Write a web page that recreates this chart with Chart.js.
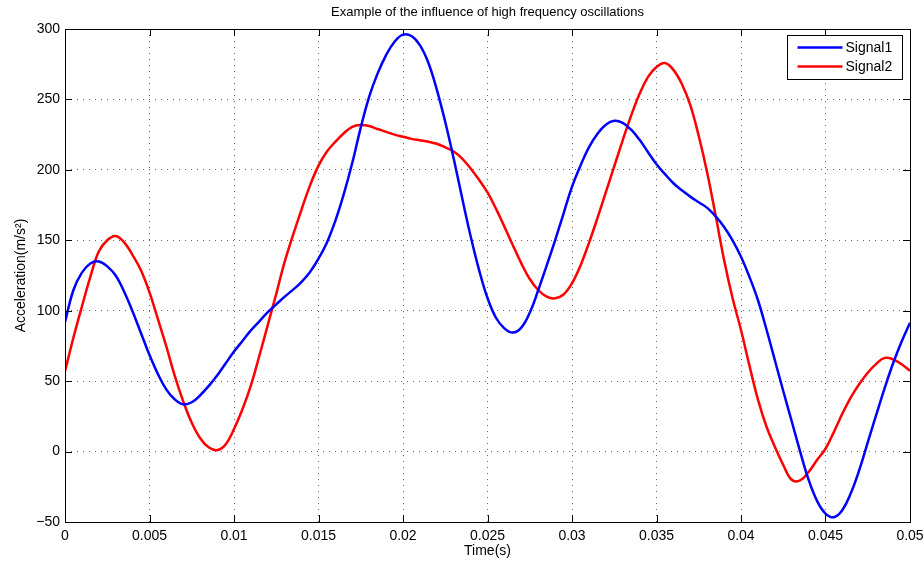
<!DOCTYPE html>
<html>
<head>
<meta charset="utf-8">
<title>High frequency oscillations</title>
<script src="https://cdn.jsdelivr.net/npm/chart.js@4.4.0/dist/chart.umd.min.js"></script>
<style>
    html, body { margin: 0; padding: 0; background: #fff; }
    #wrap { width: 924px; height: 565px; }
</style>
</head>
<body>
<div id="wrap"><canvas id="accelChart" width="924" height="565"></canvas></div>
<script>
// Sample times (s), shared by both signals
const timeS = [
    0, 0.0005, 0.001, 0.0015, 0.002, 0.0025, 0.003, 0.0035, 0.004, 0.0045,
    0.005, 0.0055, 0.006, 0.0065, 0.007, 0.0075, 0.008, 0.0085, 0.009, 0.0095,
    0.010, 0.0105, 0.011, 0.0115, 0.012, 0.0125, 0.013, 0.0135, 0.014, 0.0145,
    0.015, 0.0155, 0.016, 0.0165, 0.017, 0.0175, 0.018, 0.0185, 0.019, 0.0195,
    0.020, 0.0205, 0.021, 0.0215, 0.022, 0.0225, 0.023, 0.0235, 0.024, 0.0245,
    0.025, 0.0255, 0.026, 0.0265, 0.027, 0.0275, 0.028, 0.0285, 0.029, 0.0295,
    0.030, 0.0305, 0.031, 0.0315, 0.032, 0.0325, 0.033, 0.0335, 0.034, 0.0345,
    0.035, 0.0355, 0.036, 0.0365, 0.037, 0.0375, 0.038, 0.0385, 0.039, 0.0395,
    0.040, 0.0405, 0.041, 0.0415, 0.042, 0.0425, 0.043, 0.0435, 0.044, 0.0445,
    0.045, 0.0455, 0.046, 0.0465, 0.047, 0.0475, 0.048, 0.0485, 0.049, 0.0495,
    0.050
];

// Acceleration (m/s^2)
const signal1 = [
    92, 114.7, 127, 133.5, 135, 131.5, 125, 113.5, 99.5, 84,
    68.5, 55, 44, 37, 33.5, 35, 40, 46.5, 54, 62.5,
    71, 78.5, 86, 92.5, 99, 104.5, 110, 115, 120.5, 127.5,
    137, 148.5, 164, 183, 205, 230, 252, 268.5, 281.5, 291,
    296, 295, 288.5, 276, 257, 234, 208, 180, 153, 129,
    109, 95, 87.5, 84.5, 88, 98.5, 114.5, 132, 150, 169,
    188, 203, 216, 225.5, 232, 234.8, 233.3, 228.5, 221.3, 212.5,
    204, 197, 190.5, 185.5, 181, 177, 173, 167, 159.5, 150,
    138.3, 124, 107.6, 87, 65, 43, 21.5, 0, -20, -35,
    -44, -46.6, -41.5, -29.5, -13, 6.5, 26, 45, 62.7, 78,
    91.5
];
const signal2 = [
    57, 81, 103, 124, 142, 150, 153, 148.5, 139.5, 128.5,
    113, 94, 74.5, 53.5, 35.5, 20.5, 9.5, 3, 1, 5,
    16, 30, 47, 68, 90, 112, 134.8, 154, 172, 189,
    203, 213, 220, 226, 230.6, 231.8, 231.1, 229, 227, 225,
    223.5, 222, 221, 220, 218.5, 216, 213, 208, 201, 193,
    184, 172.5, 159.7, 146.5, 133.6, 122.5, 114.7, 110, 108.8, 111.5,
    119.5, 132, 148, 165.5, 184, 202.5, 221, 238.5, 254, 266,
    273, 275.8, 271, 261, 246, 224, 198, 167.5, 136, 109,
    86.3, 61, 37, 18, 3.5, -9.5, -20, -20.5, -14.5, -6,
    2, 14, 27, 38.5, 48, 56, 62.3, 66.5, 65.5, 62,
    57.4
];

const xTicks = [0, 0.005, 0.01, 0.015, 0.02, 0.025, 0.03, 0.035, 0.04, 0.045, 0.05];
const yTicks = [-50, 0, 50, 100, 150, 200, 250, 300];

const seriesNames = ['Signal1', 'Signal2'];
const seriesColors = ['#0000ff', '#ff0000'];

const FONT = '"Liberation Sans", Arial, Helvetica, sans-serif';

function toPoints(times, values) {
    return times.map((t, i) => ({ x: t, y: values[i] }));
}

// Axes box, inward tick marks, axis titles, plot title and legend
const axesDecor = {
    id: 'axesDecor',
    afterDatasetsDraw(chart) {
        const { ctx, chartArea: a, scales } = chart;
        const tickLen = 7;
        ctx.save();
        ctx.strokeStyle = '#000';
        ctx.lineWidth = 1;
        ctx.beginPath();
        xTicks.forEach(v => {
            const px = Math.round(scales.x.getPixelForValue(v)) + 0.5;
            ctx.moveTo(px, a.bottom); ctx.lineTo(px, a.bottom - tickLen);
            ctx.moveTo(px, a.top); ctx.lineTo(px, a.top + tickLen);
        });
        yTicks.forEach(v => {
            const py = Math.round(scales.y.getPixelForValue(v)) + 0.5;
            ctx.moveTo(a.left, py); ctx.lineTo(a.left + tickLen, py);
            ctx.moveTo(a.right, py); ctx.lineTo(a.right - tickLen, py);
        });
        ctx.stroke();
        ctx.strokeRect(Math.round(a.left) + 0.5, Math.round(a.top) + 0.5,
            Math.round(a.right - a.left), Math.round(a.bottom - a.top));
        ctx.restore();
    },
    afterDraw(chart) {
        const { ctx, chartArea: a } = chart;
        const midX = (a.left + a.right) / 2;
        ctx.save();
        ctx.fillStyle = '#000';

        // title
        ctx.font = '13px ' + FONT;
        ctx.textAlign = 'center';
        ctx.textBaseline = 'middle';
        ctx.fillText('Example of the influence of high frequency oscillations', midX, 12);

        // axis titles
        ctx.font = '14px ' + FONT;
        ctx.fillText('Time(s)', midX, 551);
        ctx.save();
        ctx.translate(21, (a.top + a.bottom) / 2);
        ctx.rotate(-Math.PI / 2);
        ctx.fillText('Acceleration(m/s\u00B2)', 0, 0);
        ctx.restore();

        // legend
        const boxW = 115, boxH = 44;
        const bx = Math.round(a.right - 8 - boxW) + 0.5;
        const by = Math.round(a.top + 6) + 0.5;
        ctx.fillStyle = '#fff';
        ctx.fillRect(bx, by, boxW, boxH);
        ctx.strokeStyle = '#000';
        ctx.lineWidth = 1;
        ctx.strokeRect(bx, by, boxW, boxH);
        ctx.textAlign = 'left';
        ctx.textBaseline = 'middle';
        seriesNames.forEach((name, i) => {
            const ly = by + 12 + i * 19;
            ctx.strokeStyle = seriesColors[i];
            ctx.lineWidth = 2.5;
            ctx.beginPath();
            ctx.moveTo(bx + 10, ly);
            ctx.lineTo(bx + 55, ly);
            ctx.stroke();
            ctx.fillStyle = '#000';
            ctx.fillText(name, bx + 58, ly + 1);
        });
        ctx.restore();
    }
};

const gridStyle = {
    color: 'rgba(0, 0, 0, 0.6)',
    lineWidth: 1,
    drawTicks: false
};

const ctx = document.getElementById('accelChart').getContext('2d');
const accelChart = new Chart(ctx, {
    type: 'line',
    data: {
        datasets: [
            {
                label: seriesNames[0],
                data: toPoints(timeS, signal1),
                borderColor: seriesColors[0],
                borderWidth: 2.5,
                pointRadius: 0,
                fill: false,
                tension: 0.4
            },
            {
                label: seriesNames[1],
                data: toPoints(timeS, signal2),
                borderColor: seriesColors[1],
                borderWidth: 2.5,
                pointRadius: 0,
                fill: false,
                tension: 0.4
            }
        ]
    },
    options: {
        responsive: false,
        animation: false,
        devicePixelRatio: 1,
        layout: { padding: { top: 29, right: 14, bottom: 0, left: 0 } },
        plugins: {
            legend: { display: false },
            title: { display: false },
            tooltip: { enabled: false }
        },
        scales: {
            x: {
                type: 'linear',
                min: 0,
                max: 0.05,
                afterBuildTicks(scale) {
                    scale.ticks = xTicks.map(v => ({ value: v }));
                },
                afterFit(scale) {
                    scale.height = 43;
                    scale.paddingLeft = 0;
                    scale.paddingRight = 0;
                },
                ticks: {
                    autoSkip: false,
                    maxRotation: 0,
                    padding: 6,
                    color: '#000',
                    font: { family: FONT, size: 14 },
                    callback: v => String(v)
                },
                grid: gridStyle,
                border: { display: false, dash: [1, 5] }
            },
            y: {
                type: 'linear',
                min: -50,
                max: 300,
                afterBuildTicks(scale) {
                    scale.ticks = yTicks.map(v => ({ value: v }));
                },
                afterFit(scale) {
                    scale.width = 65;
                    scale.paddingTop = 0;
                    scale.paddingBottom = 0;
                },
                ticks: {
                    autoSkip: false,
                    padding: 5,
                    color: '#000',
                    font: { family: FONT, size: 14 },
                    callback: v => (v < 0 ? '\u2212' + Math.abs(v) : String(v))
                },
                grid: gridStyle,
                border: { display: false, dash: [1, 5] }
            }
        }
    },
    plugins: [axesDecor]
});
</script>
</body>
</html>
